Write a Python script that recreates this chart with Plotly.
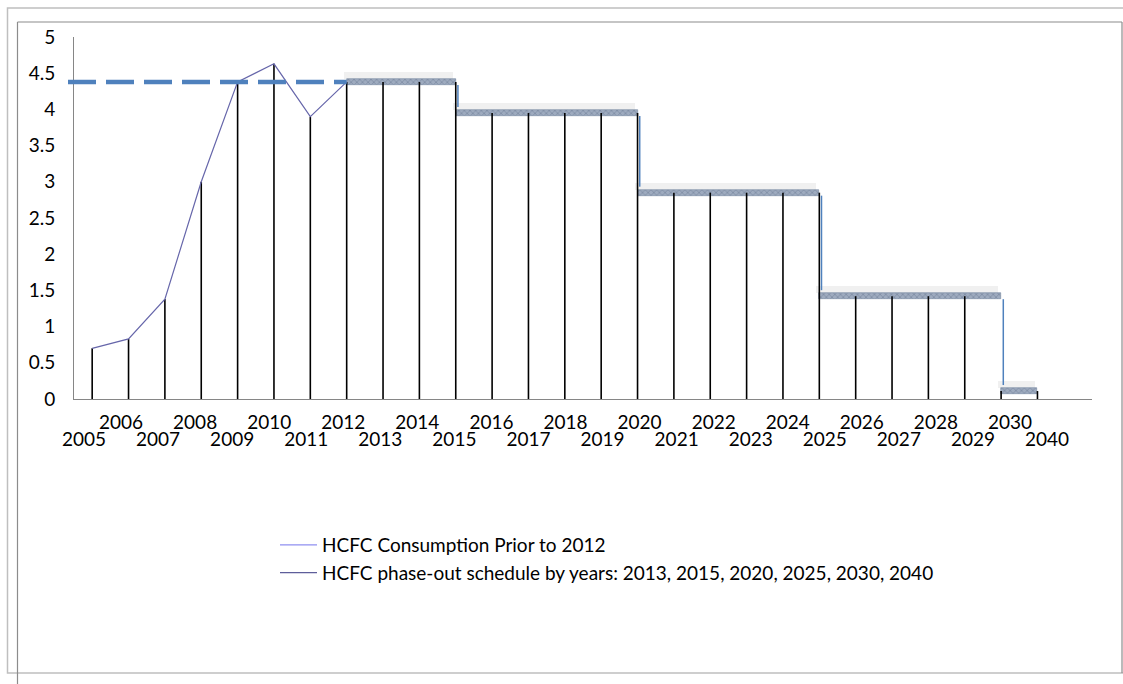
import plotly.graph_objects as go

# ---------------- data ----------------
years = ['2005', '2006', '2007', '2008', '2009', '2010', '2011', '2012', '2013',
         '2014', '2015', '2016', '2017', '2018', '2019', '2020', '2021', '2022',
         '2023', '2024', '2025', '2026', '2027', '2028', '2029', '2030', '2040']

consumption_years = ['2005', '2006', '2007', '2008', '2009', '2010', '2011', '2012']
consumption = [0.70, 0.83, 1.38, 3.00, 4.38, 4.63, 3.90, 4.38]

baseline = 4.38  # average 2009-2010

schedule_years = ['2013', '2014', '2015', '2016', '2017', '2018', '2019', '2020',
                  '2021', '2022', '2023', '2024', '2025', '2026', '2027', '2028',
                  '2029', '2030', '2040']
schedule = [4.38, 4.38, 4.38, 3.95, 3.95, 3.95, 3.95, 3.95,
            2.85, 2.85, 2.85, 2.85, 2.85, 1.42, 1.42, 1.42,
            1.42, 0.11, 0.11]

step_start = ['2012', '2015', '2020', '2025', '2030']
step_end = ['2015', '2020', '2025', '2030', '2040']
step_levels = [4.38, 3.95, 2.85, 1.42, 0.11]

name1 = 'HCFC Consumption Prior to 2012'
name2 = 'HCFC phase-out schedule by years: 2013, 2015, 2020, 2025, 2030, 2040'

# ---------------- geometry helpers ----------------
W, H = 1123, 684
ML, MR, MT, MB = 74, 31, 37, 285
PW, PH = W - ML - MR, H - MT - MB
XR = [-0.5, len(years) + 0.5]      # one empty slot after the last category
YR = [0, 5]
px_per_y = PH / (YR[1] - YR[0])


def idx(y):
    return years.index(y)


def xp(px):  # pixel -> paper
    return (px - ML) / PW


def yp(py):
    return (H - MB - py) / PH


def cat2paper(i):
    return (i - XR[0]) / (XR[1] - XR[0])


fig = go.Figure()

# ---- step bands (shadow + hatched band) ----
band_h = 6 / px_per_y
shadow_h = 7 / px_per_y
bx = [(idx(a) + idx(b)) / 2 for a, b in zip(step_start, step_end)]
bw = [idx(b) - idx(a) for a, b in zip(step_start, step_end)]
fig.add_trace(go.Bar(
    x=[v - 0.08 for v in bx], width=bw, base=[l + band_h / 2 for l in step_levels],
    y=[shadow_h] * len(step_levels), marker=dict(color='#F0F0F0', line=dict(width=0)),
    showlegend=False, hoverinfo='skip'))
fig.add_trace(go.Bar(
    x=bx, width=bw, base=[l - band_h / 2 for l in step_levels],
    y=[band_h] * len(step_levels),
    marker=dict(color='#9EABBF', line=dict(width=0.6, color='#76869F'),
                pattern=dict(shape='x', fgcolor='#66768F', size=4, solidity=0.4)),
    showlegend=False, hoverinfo='skip'))

# ---- drop lines ----
all_years = consumption_years + schedule_years
all_vals = consumption + schedule
dx, dy = [], []
for yv, v in zip(all_years, all_vals):
    dx += [idx(yv), idx(yv), None]
    dy += [0, v, None]
fig.add_trace(go.Scatter(x=dx, y=dy, mode='lines',
                         line=dict(color='#000000', width=1.6),
                         showlegend=False, hoverinfo='skip'))

# ---- vertical blue connectors between steps ----
cx, cy = [], []
for k in range(1, len(step_levels)):
    i = idx(step_start[k])
    cx += [i + 0.06, i + 0.06, None]
    cy += [step_levels[k - 1] - band_h / 2, step_levels[k] + band_h, None]
fig.add_trace(go.Scatter(x=cx, y=cy, mode='lines',
                         line=dict(color='#4F81BD', width=1.5),
                         showlegend=False, hoverinfo='skip'))

# ---- consumption line ----
fig.add_trace(go.Scatter(x=[idx(y) for y in consumption_years], y=consumption,
                         mode='lines', line=dict(color='#6666AA', width=1.2),
                         showlegend=False, hoverinfo='skip'))

# ---- legend entries ----
fig.add_trace(go.Scatter(x=[None], y=[None], mode='lines', name=name1,
                         line=dict(color='#8F8FF0', width=1.2)))
fig.add_trace(go.Scatter(x=[None], y=[None], mode='lines', name=name2,
                         line=dict(color='#5E5E9A', width=1.2)))

# ---- carriers for the two tick-label rows ----
fig.add_trace(go.Scatter(x=[None], y=[None], xaxis='x2', yaxis='y',
                         showlegend=False, hoverinfo='skip'))
fig.add_trace(go.Scatter(x=[None], y=[None], xaxis='x3', yaxis='y',
                         showlegend=False, hoverinfo='skip'))

# ---- dashed baseline ----
shapes = [dict(type='line', xref='paper', yref='y',
               x0=xp(68), x1=cat2paper(idx('2012')), y0=baseline, y1=baseline,
               line=dict(color='#4F81BD', width=4.5, dash='28px,10px'))]

# ---- frames ----
shapes.append(dict(type='rect', xref='paper', yref='paper', layer='below',
                   x0=xp(7.5), x1=xp(1124), y0=yp(8), y1=yp(673),
                   line=dict(color='#BFBFBF', width=1.5)))
for (x0, y0, x1, y1) in [(17.5, 22, 17.5, 690), (17.5, 22, 1122, 22), (1122, 22, 1122, 673)]:
    shapes.append(dict(type='line', xref='paper', yref='paper',
                       x0=xp(x0), x1=xp(x1), y0=yp(y0), y1=yp(y1),
                       line=dict(color='#8C8C8C', width=1.2)))

font_family = 'Lato, Open Sans, sans-serif'
tick_font = dict(family=font_family, size=19, color='#000000')

# label axes: measured label centres run slightly wider than category centres
lab0 = 84
lab_step = 37.04
lab_range = [-(lab0 - ML) / lab_step, (ML + PW - lab0) / lab_step]

lower = [i for i in range(len(years)) if i % 2 == 0]
upper = [i for i in range(len(years)) if i % 2 == 1]

fig.update_layout(
    width=W, height=H,
    margin=dict(l=ML, r=MR, t=MT, b=MB),
    paper_bgcolor='white', plot_bgcolor='white',
    barmode='overlay', bargap=0,
    shapes=shapes,
    showlegend=True,
    legend=dict(x=xp(275), y=yp(526), xanchor='left', yanchor='top',
                font=dict(family=font_family, size=19, color='#000000'),
                itemwidth=37, bgcolor='rgba(0,0,0,0)', tracegroupgap=0),
    xaxis=dict(range=XR, showgrid=False, zeroline=False, showline=True,
               linecolor='#868686', linewidth=1, showticklabels=False, ticks=''),
    xaxis2=dict(range=lab_range, overlaying='x', anchor='y', side='bottom',
                tickmode='array', tickvals=lower, ticktext=[years[i] for i in lower],
                showgrid=False, zeroline=False, showline=False, ticks='',
                tickfont=tick_font, ticklabelstandoff=27),
    xaxis3=dict(range=lab_range, overlaying='x', anchor='y', side='bottom',
                tickmode='array', tickvals=upper, ticktext=[years[i] for i in upper],
                showgrid=False, zeroline=False, showline=False, ticks='',
                tickfont=tick_font, ticklabelstandoff=10),
    yaxis=dict(range=YR, tickmode='array', tickvals=[0, 0.5, 1, 1.5, 2, 2.5, 3, 3.5, 4, 4.5, 5],
               ticktext=['0', '0.5', '1', '1.5', '2', '2.5', '3', '3.5', '4', '4.5', '5'],
               showgrid=False, zeroline=False, showline=True, linecolor='#868686',
               linewidth=1, ticks='', tickfont=tick_font, ticklabelstandoff=14),
)

fig.write_html('out.html')
